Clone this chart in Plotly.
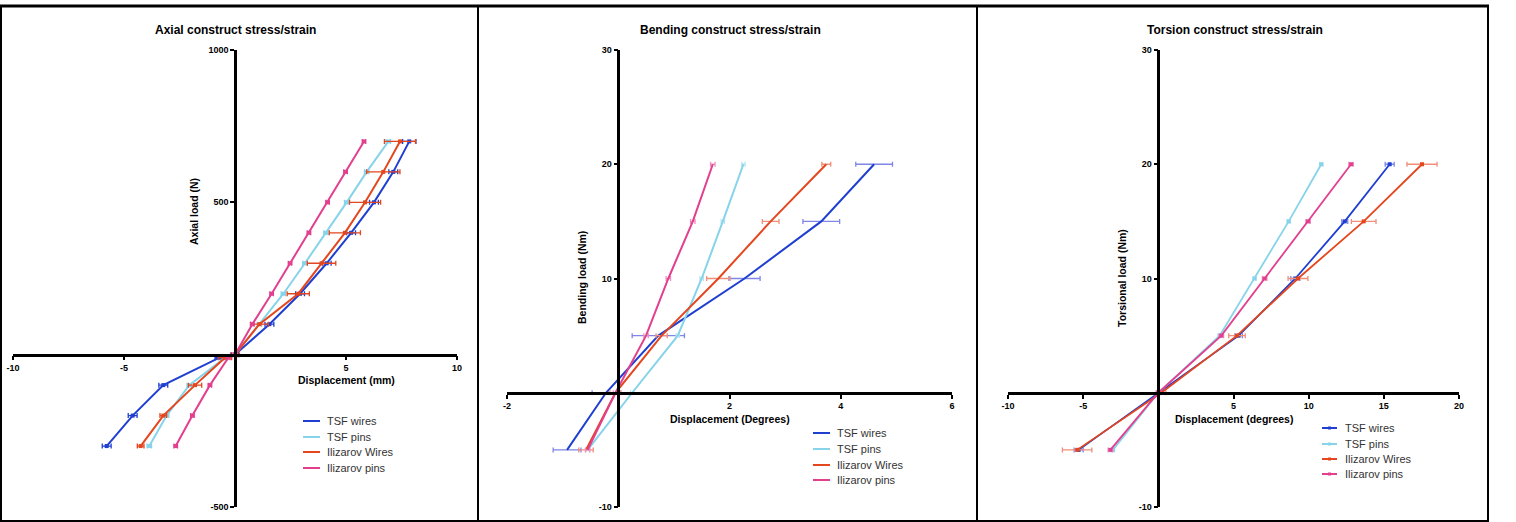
import plotly.graph_objects as go

W, H = 1516, 522

series_names = ["TSF wires", "TSF pins", "Ilizarov Wires", "Ilizarov pins"]
colors = ["#1f3fd0", "#86d3ea", "#e4461e", "#e23f8f"]
pale_colors = ["#7f86e6", "#b3e3f2", "#ef8f7a", "#ee8fbd"]

# ---- Axial ----
axial_load = [-300, -200, -100, -10, 0, 100, 200, 300, 400, 500, 600, 700]
axial_tsf_wires = [-5.78, -4.61, -3.23, -0.7, 0, 1.55, 2.93, 4.13, 5.23, 6.26, 7.13, 7.85]
axial_tsf_wires_err = [0.2, 0.2, 0.2, 0.2, 0.15, 0.2, 0.2, 0.2, 0.2, 0.2, 0.2, 0.3]
axial_tsf_pins = [-3.86, -3.08, -2.06, -0.45, 0, 1.1, 2.18, 3.15, 4.1, 5.03, 5.93, 6.91]
axial_tsf_pins_err = [0.1] * 12
axial_iliz_wires = [-4.25, -3.23, -1.8, -0.45, 0, 1.1, 2.85, 3.9, 4.95, 5.86, 6.68, 7.43]
axial_iliz_wires_err = [0.15, 0.15, 0.3, 0.3, 0.2, 0.4, 0.5, 0.64, 0.7, 0.7, 0.75, 0.7]
axial_iliz_pins = [-2.67, -1.92, -1.13, -0.3, 0, 0.78, 1.65, 2.48, 3.33, 4.17, 4.98, 5.81]
axial_iliz_pins_err = [0.08] * 12

# ---- Bending ----
bend_load = [-5, 0, 5, 10, 15, 20]
bend_tsf_wires = [-0.92, -0.22, 0.72, 2.27, 3.65, 4.6]
bend_tsf_wires_err = [0.25, 0.25, 0.47, 0.28, 0.33, 0.33]
bend_tsf_pins = [-0.55, 0.25, 1.07, 1.5, 1.88, 2.25]
bend_tsf_pins_err = [0.03] * 6
bend_iliz_wires = [-0.58, -0.05, 0.78, 1.8, 2.74, 3.74]
bend_iliz_wires_err = [0.13, 0.1, 0.1, 0.21, 0.15, 0.08]
bend_iliz_pins = [-0.55, -0.05, 0.5, 0.9, 1.34, 1.7]
bend_iliz_pins_err = [0.04] * 6

# ---- Torsion ----
tors_load = [-5, 0, 5, 10, 15, 20]
tors_tsf_wires = [-5.3, 0, 5.34, 9.11, 12.4, 15.39]
tors_tsf_wires_err = [0.3, 0.1, 0.25, 0.3, 0.2, 0.3]
tors_tsf_pins = [-3.02, 0, 4.08, 6.4, 8.67, 10.84]
tors_tsf_pins_err = [0.1] * 6
tors_iliz_wires = [-5.4, 0.2, 5.23, 9.29, 13.66, 17.54]
tors_iliz_wires_err = [0.98, 0.3, 0.55, 0.66, 0.82, 1.0]
tors_iliz_pins = [-3.19, 0, 4.19, 7.07, 9.96, 12.82]
tors_iliz_pins_err = [0.15] * 6

# tick values
axial_xticks = [-10, -5, 5, 10]
axial_yticks = [-500, 500, 1000]
bend_xticks = [-2, 2, 4, 6]
bend_yticks = [-10, 10, 20, 30]
tors_xticks = [-10, -5, 5, 10, 15, 20]
tors_yticks = [-10, 10, 20, 30]

def px(x):
    return x / W

def py(y):
    return 1 - y / H

fig = go.Figure()

panels = [
    dict(ax="", load=axial_load,
         xs=[axial_tsf_wires, axial_tsf_pins, axial_iliz_wires, axial_iliz_pins],
         es=[axial_tsf_wires_err, axial_tsf_pins_err, axial_iliz_wires_err, axial_iliz_pins_err],
         lw=2, ms=4, ecol=colors),
    dict(ax="2", load=bend_load,
         xs=[bend_tsf_wires, bend_tsf_pins, bend_iliz_wires, bend_iliz_pins],
         es=[bend_tsf_wires_err, bend_tsf_pins_err, bend_iliz_wires_err, bend_iliz_pins_err],
         lw=2, ms=0, ecol=pale_colors),
    dict(ax="3", load=tors_load,
         xs=[tors_tsf_wires, tors_tsf_pins, tors_iliz_wires, tors_iliz_pins],
         es=[tors_tsf_wires_err, tors_tsf_pins_err, tors_iliz_wires_err, tors_iliz_pins_err],
         lw=1.8, ms=4, ecol=pale_colors),
]

for p in panels:
    for name, col, ecol, xv, ev in zip(series_names, colors, p["ecol"], p["xs"], p["es"]):
        fig.add_trace(go.Scatter(
            x=xv, y=p["load"], name=name, showlegend=False,
            mode="lines+markers" if p["ms"] else "lines",
            line=dict(color=col, width=p["lw"]),
            marker=dict(size=p["ms"] or 1, color=col, symbol="square"),
            error_x=dict(type="data", array=ev, color=ecol, thickness=1.3, width=2.5),
            xaxis="x" + p["ax"], yaxis="y" + p["ax"],
        ))

tickfont = dict(family="Liberation Sans, Arial", size=9, color="black", weight="bold")
axis_common = dict(showline=True, linecolor="black", linewidth=2.5, ticks="outside",
                   ticklen=4, tickwidth=2, tickcolor="black", showgrid=False,
                   zeroline=False, tickfont=tickfont, anchor="free", fixedrange=True,
                   automargin=False)

# geometry: (x-left px, x-right px, xrange, xtickvals, y-top px, y-bottom px, yrange, ytickvals)
geo = [
    ("", 13, 457, [-10, 10], axial_xticks, 50, 507, [-500, 1000], axial_yticks),
    ("2", 507, 952, [-2, 6], bend_xticks, 50, 507, [-10, 30], bend_yticks),
    ("3", 1008, 1459, [-10, 20], tors_xticks, 50, 507, [-10, 30], tors_yticks),
]

for ax, xl, xr, xrng, xt, yt, yb, yrng, yti in geo:
    x0px = xl + (0 - xrng[0]) / (xrng[1] - xrng[0]) * (xr - xl)
    y0px = yb - (0 - yrng[0]) / (yrng[1] - yrng[0]) * (yb - yt)
    fig.layout["xaxis" + ax] = dict(axis_common, domain=[px(xl), px(xr)], range=xrng,
                                    tickvals=xt, ticktext=[str(v) for v in xt],
                                    position=py(y0px))
    fig.layout["yaxis" + ax] = dict(axis_common, domain=[py(yb), py(yt)], range=yrng,
                                    tickvals=yti, ticktext=[str(v) for v in yti],
                                    position=px(x0px))

titles = [
    ("Axial construct stress/strain", 235, 30),
    ("Bending construct stress/strain", 730, 30),
    ("Torsion construct stress/strain", 1235, 30),
]
xtitles = [
    ("Displacement (mm)", 346, 380),
    ("Displacement (Degrees)", 730, 419),
    ("Displacement (degrees)", 1234, 419),
]
ytitles = [
    ("Axial load (N)", 194, 212),
    ("Bending load (Nm)", 582, 278),
    ("Torsional load (Nm)", 1122, 278),
]

ann = []
bold = dict(family="Liberation Sans, Arial", size=12, color="black", weight="bold")
for t, x, y in titles:
    ann.append(dict(text=t, x=px(x), y=py(y), xref="paper", yref="paper",
                    showarrow=False, font=bold, xanchor="center", yanchor="middle"))
for t, x, y in xtitles:
    ann.append(dict(text=t, x=px(x), y=py(y), xref="paper", yref="paper",
                    showarrow=False, font=dict(bold, size=10.5), xanchor="center", yanchor="middle"))
for t, x, y in ytitles:
    ann.append(dict(text=t, x=px(x), y=py(y), xref="paper", yref="paper", textangle=-90,
                    showarrow=False, font=dict(bold, size=10.5), xanchor="center", yanchor="middle"))

shapes = []
line = dict(color="black", width=2)
for x in [1, 478, 977, 1488]:
    shapes.append(dict(type="line", xref="paper", yref="paper", x0=px(x), x1=px(x),
                       y0=py(521), y1=py(6), line=line))
shapes.append(dict(type="line", xref="paper", yref="paper", x0=px(0), x1=px(1489),
                   y0=py(6), y1=py(6), line=dict(color="black", width=3)))
shapes.append(dict(type="line", xref="paper", yref="paper", x0=px(0), x1=px(1489),
                   y0=py(521), y1=py(521), line=line))

# manual legends (tight row spacing as in the reference)
legfont = dict(family="Liberation Sans, Arial", size=11, color="#333333")
legends = [
    (303, 320, 325, [421, 437, 452, 468], False),
    (813, 830, 835, [433, 449, 465, 480], False),
    (1322, 1337, 1343, [428, 444, 459, 474], True),
]
for lx0, lx1, tx, rows, dots in legends:
    for name, col, ry in zip(series_names, colors, rows):
        shapes.append(dict(type="line", xref="paper", yref="paper", x0=px(lx0), x1=px(lx1),
                           y0=py(ry), y1=py(ry), line=dict(color=col, width=2)))
        if dots:
            cx = (lx0 + lx1) / 2
            shapes.append(dict(type="rect", xref="paper", yref="paper",
                               x0=px(cx - 1.5), x1=px(cx + 1.5), y0=py(ry + 1.5), y1=py(ry - 1.5),
                               fillcolor=col, line=dict(width=0)))
        ann.append(dict(text=name, x=px(tx), y=py(ry), xref="paper", yref="paper",
                        showarrow=False, font=legfont, xanchor="left", yanchor="middle"))

fig.update_layout(
    template="none",
    width=W, height=H, autosize=False,
    margin=dict(l=0, r=0, t=0, b=0, pad=0),
    paper_bgcolor="white", plot_bgcolor="white",
    showlegend=False,
    annotations=ann, shapes=shapes,
)

fig.write_html("out.html", post_script="document.body.style.margin='0';",
               config={"displayModeBar": False})
